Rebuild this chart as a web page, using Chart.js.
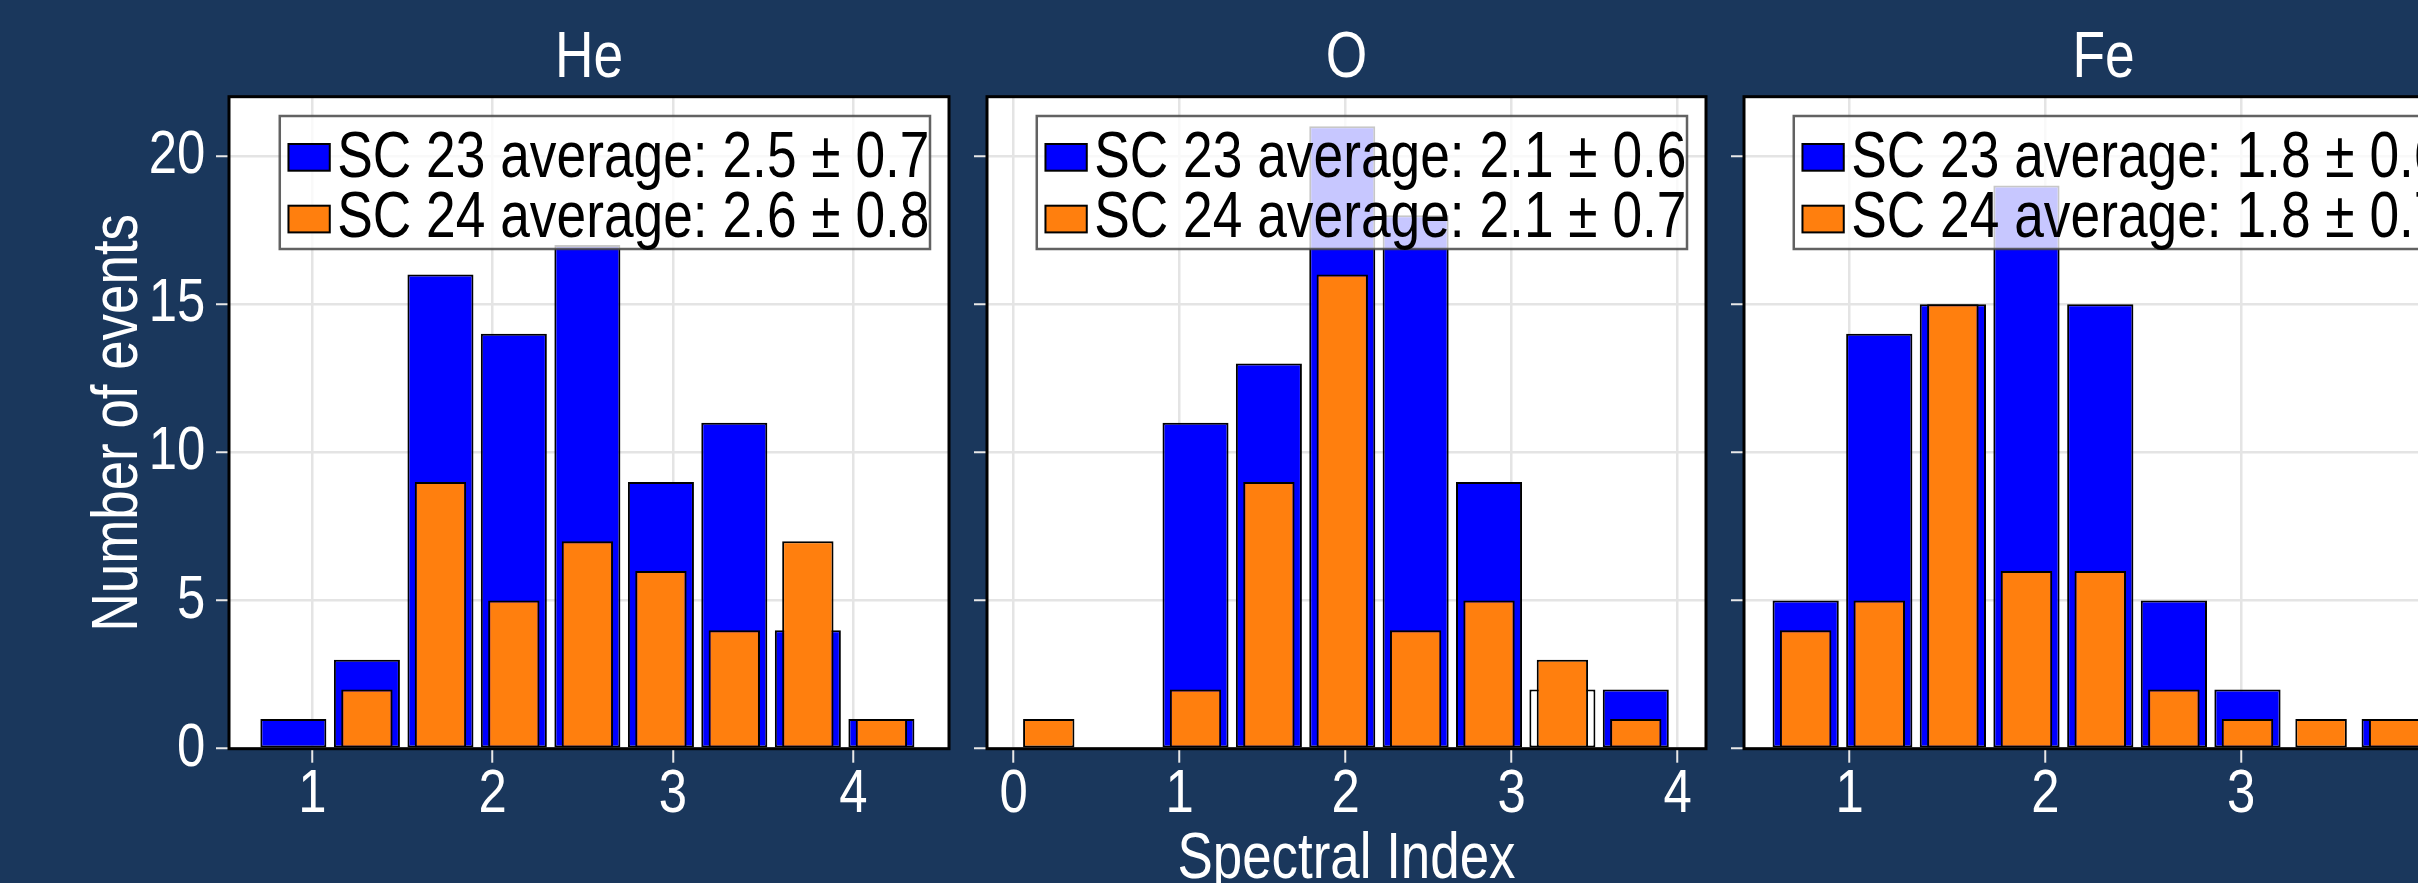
<!DOCTYPE html>
<html>
<head>
<meta charset="utf-8">
<script src="https://cdn.jsdelivr.net/npm/chart.js@4.4.0/dist/chart.umd.min.js"></script>
<style>
  html, body { margin: 0; padding: 0; background: #1a375c; }
  #figure { position: relative; width: 2418px; height: 883px; overflow: hidden; background: #1a375c; }
  .panel { position: absolute; top: 0; height: 960px; }
</style>
</head>
<body>
<div id="figure">
  <div class="panel" style="left:0px;width:968px"><canvas id="c-he"></canvas></div>
  <div class="panel" style="left:968px;width:757px"><canvas id="c-o"></canvas></div>
  <div class="panel" style="left:1725px;width:800px"><canvas id="c-fe"></canvas></div>
</div>
<script>
// Histograms of event spectral indices, solar cycle 23 vs solar cycle 24

// Helium
const heBins  = [0.894, 1.302, 1.710, 2.117, 2.525, 2.933, 3.340, 3.748, 4.156];
const heSC23  = [1, 3, 16, 14, 17, 9, 11, 4, 1];
const heSC24  = [0, 2, 9, 5, 7, 6, 4, 7, 1];
const heLabels = ['SC 23 average: 2.5 \u00B1 0.7', 'SC 24 average: 2.6 \u00B1 0.8'];

// Oxygen
const oBins   = [0.212, 0.654, 1.096, 1.538, 1.980, 2.422, 2.864, 3.306, 3.748];
const oSC23   = [0, 0, 11, 13, 21, 18, 9, 2, 2];
const oSC24   = [1, 0, 2, 9, 16, 4, 5, 3, 1];
const oLabels = ['SC 23 average: 2.1 \u00B1 0.6', 'SC 24 average: 2.1 \u00B1 0.7'];

// Iron
const feBins  = [0.775, 1.151, 1.527, 1.903, 2.280, 2.656, 3.032, 3.408, 3.784];
const feSC23  = [5, 14, 15, 19, 15, 5, 2, 0, 1];
const feSC24  = [4, 5, 15, 6, 6, 2, 1, 1, 1];
const feLabels = ['SC 23 average: 1.8 \u00B1 0.6', 'SC 24 average: 1.8 \u00B1 0.7'];

// Axis ticks
const heXTicks = [1, 2, 3, 4];
const oXTicks  = [0, 1, 2, 3, 4];
const feXTicks = [1, 2, 3, 4];
const yTicks   = [0, 5, 10, 15, 20];

const FONT = '"Liberation Sans", Arial, sans-serif';
const SC23_COLOR = '#0000ff';
const SC24_COLOR = '#ff7f0e';
const WHITE = '#ffffff';

// Condensed lettering: every string is drawn squeezed along its own baseline
// (Arial Narrow proportions), and measured the same way so layout agrees.
const NARROW = 0.82;
(function () {
  const proto = CanvasRenderingContext2D.prototype;
  const fill = proto.fillText;
  const measure = proto.measureText;
  proto.fillText = function (text, x, y, maxWidth) {
    this.save();
    this.translate(x, y);
    this.scale(NARROW, 1);
    if (maxWidth === undefined) fill.call(this, text, 0, 0);
    else fill.call(this, text, 0, 0, maxWidth / NARROW);
    this.restore();
  };
  proto.measureText = function (text) {
    const m = measure.call(this, text);
    return {
      width: m.width * NARROW,
      actualBoundingBoxLeft: m.actualBoundingBoxLeft * NARROW,
      actualBoundingBoxRight: m.actualBoundingBoxRight * NARROW,
      actualBoundingBoxAscent: m.actualBoundingBoxAscent,
      actualBoundingBoxDescent: m.actualBoundingBoxDescent,
      fontBoundingBoxAscent: m.fontBoundingBoxAscent,
      fontBoundingBoxDescent: m.fontBoundingBoxDescent
    };
  };
})();

Chart.defaults.font.family = FONT;

// white plotting area
const plotBackground = {
  id: 'plotBackground',
  beforeDraw(chart) {
    const { ctx, chartArea: a } = chart;
    ctx.save();
    ctx.fillStyle = '#ffffff';
    ctx.fillRect(a.left, a.top, a.right - a.left, a.bottom - a.top);
    ctx.restore();
  }
};

// framed, semi-transparent legend in the upper right of the plotting area
const boxLegend = {
  id: 'boxLegend',
  afterDatasetsDraw(chart) {
    const { ctx, chartArea: a } = chart;
    const sets = chart.data.datasets;
    ctx.save();
    ctx.font = '65px ' + FONT;
    const textW = Math.max(...sets.map(d => ctx.measureText(d.label).width));
    const w = textW + 58, h = 133;
    const left = a.right - 19 - w, top = a.top + 19.3;
    ctx.fillStyle = 'rgba(255,255,255,0.78)';
    ctx.fillRect(left, top, w, h);
    ctx.strokeStyle = 'rgba(70,70,70,0.85)';
    ctx.lineWidth = 2.5;
    ctx.strokeRect(left, top, w, h);
    sets.forEach((d, i) => {
      const y0 = top + 28 + i * 61.7;
      ctx.fillStyle = d.legendColor;
      ctx.fillRect(left + 8.7, y0, 41.3, 26.7);
      ctx.strokeStyle = '#000000';
      ctx.lineWidth = 2;
      ctx.strokeRect(left + 8.7, y0, 41.3, 26.7);
      ctx.fillStyle = '#000000';
      ctx.textBaseline = 'alphabetic';
      ctx.textAlign = 'left';
      ctx.fillText(d.label, left + 57.5, top + 60.5 + i * 60.5);
    });
    ctx.restore();
  }
};

// black frame round the plotting area
const plotFrame = {
  id: 'plotFrame',
  afterDatasetsDraw(chart) {
    const { ctx, chartArea: a } = chart;
    ctx.save();
    ctx.strokeStyle = '#000000';
    ctx.lineWidth = 3;
    ctx.strokeRect(a.left, a.top, a.right - a.left, a.bottom - a.top);
    ctx.restore();
  }
};

const tickFont = { family: FONT, size: 62, lineHeight: 1 };

function makePanel(canvasId, p) {
  const points = vals => p.bins.map((x, i) => ({ x: x, y: vals[i] }));
  return new Chart(document.getElementById(canvasId), {
    type: 'bar',
    data: {
      datasets: [
        {
          label: p.labels[0],
          data: points(p.sc23),
          legendColor: SC23_COLOR,
          backgroundColor: c => (p.hollow.includes(c.dataIndex) ? WHITE : SC23_COLOR),
          borderColor: '#000000',
          borderWidth: 2,
          borderSkipped: false,
          grouped: false,
          categoryPercentage: 1,
          barPercentage: 0.9,
          order: 2
        },
        {
          label: p.labels[1],
          data: points(p.sc24),
          legendColor: SC24_COLOR,
          backgroundColor: SC24_COLOR,
          borderColor: '#000000',
          borderWidth: 2,
          borderSkipped: false,
          grouped: false,
          categoryPercentage: 1,
          barPercentage: 0.7,
          order: 1
        }
      ]
    },
    options: {
      responsive: true,
      maintainAspectRatio: false,
      animation: false,
      events: [],
      layout: { padding: { left: 0, right: p.padRight, top: 0, bottom: 0 } },
      plugins: {
        legend: { display: false },
        tooltip: { enabled: false },
        title: {
          display: true,
          text: p.name,
          color: WHITE,
          fullSize: false,
          font: { family: FONT, size: 65, weight: 'normal', lineHeight: 1 },
          padding: { top: 26.5, bottom: 5.2 }
        }
      },
      scales: {
        x: {
          type: 'linear',
          min: p.xMin,
          max: p.xMax,
          offset: false,
          afterBuildTicks: ax => { ax.ticks = p.xTicks.map(v => ({ value: v })); },
          afterFit: ax => { ax.height = 211.3; },
          border: { display: false },
          grid: { offset: false, color: '#e4e4e4', lineWidth: 2.5, tickColor: '#e8e8e8', tickWidth: 2, tickLength: 14 },
          ticks: { color: WHITE, font: tickFont, padding: 1.4, maxRotation: 0, autoSkip: false, callback: v => String(v) },
          title: {
            display: p.xTitle !== '',
            text: p.xTitle,
            color: WHITE,
            font: { family: FONT, size: 64.5, lineHeight: 1.2 },
            padding: { top: 0, bottom: 61.4 }
          }
        },
        y: {
          min: 0,
          max: 22,
          afterBuildTicks: ax => { ax.ticks = yTicks.map(v => ({ value: v })); },
          afterFit: ax => { ax.width = p.yAxisWidth; },
          border: { display: false },
          grid: { color: '#e4e4e4', lineWidth: 2.5, tickColor: '#e8e8e8', tickWidth: 2, tickLength: 13 },
          ticks: { display: p.yLabels, color: WHITE, font: tickFont, padding: 10.7, callback: v => String(v) },
          title: {
            display: p.yTitle !== '',
            text: p.yTitle,
            color: WHITE,
            font: { family: FONT, size: 64.5, lineHeight: 1.2 },
            padding: { top: 80.9, bottom: 0 }
          }
        }
      }
    },
    plugins: [plotBackground, boxLegend, plotFrame]
  });
}

makePanel('c-he', {
  name: 'He', bins: heBins, sc23: heSC23, sc24: heSC24, labels: heLabels,
  xMin: 0.537, xMax: 4.531, xTicks: heXTicks, hollow: [],
  yAxisWidth: 229, padRight: 19, yLabels: true,
  yTitle: 'Number of events', xTitle: ''
});

makePanel('c-o', {
  name: 'O', bins: oBins, sc23: oSC23, sc24: oSC24, labels: oLabels,
  xMin: -0.160, xMax: 4.171, xTicks: oXTicks, hollow: [7],
  yAxisWidth: 19, padRight: 19, yLabels: false,
  yTitle: '', xTitle: 'Spectral Index'
});

makePanel('c-fe', {
  name: 'Fe', bins: feBins, sc23: feSC23, sc24: feSC24, labels: feLabels,
  xMin: 0.460, xMax: 4.133, xTicks: feXTicks, hollow: [],
  yAxisWidth: 19, padRight: 62, yLabels: false,
  yTitle: '', xTitle: ''
});
</script>
</body>
</html>
